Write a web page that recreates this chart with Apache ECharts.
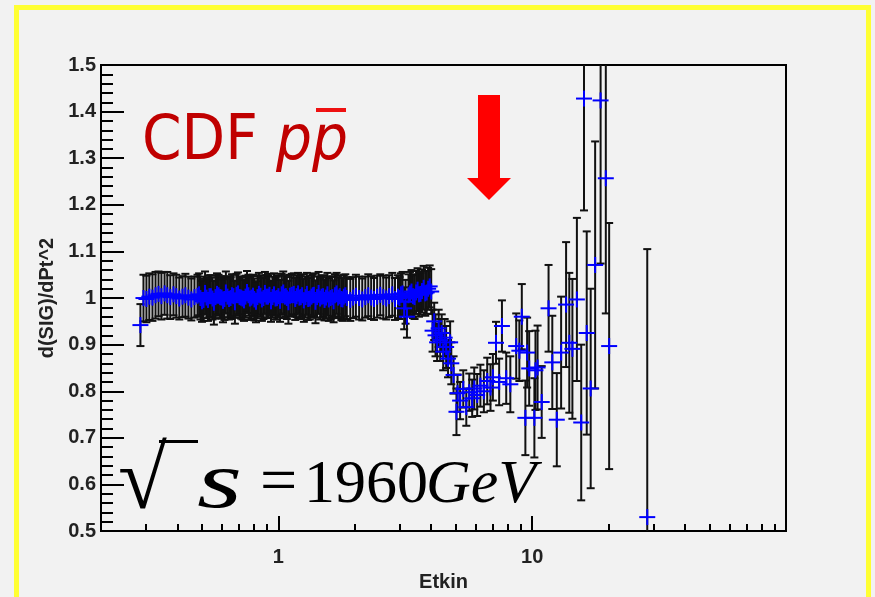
<!DOCTYPE html>
<html>
<head>
<meta charset="utf-8">
<script src="https://cdn.jsdelivr.net/npm/echarts@6/dist/echarts.min.js"></script>
<style>
html, body { margin: 0; padding: 0; background: #f2f2f2; }
#chart { width: 875px; height: 597px; }
</style>
</head>
<body>
<div id="chart"></div>
<script>
// Etkin values (log axis)
var etkin = [
    0.286, 0.294, 0.302, 0.310, 0.319, 0.328, 0.337, 0.346, 0.356, 0.365,
    0.375, 0.386, 0.396, 0.407, 0.419, 0.430, 0.442, 0.454, 0.467, 0.480,
    0.493, 0.507, 0.521, 0.535, 0.550, 0.565, 0.581, 0.597, 0.613, 0.630,
    0.648, 0.665, 0.684, 0.703, 0.722, 0.742, 0.762, 0.783, 0.805, 0.827,
    0.850, 0.873, 0.897, 0.922, 0.948, 0.974, 1.00, 1.03, 1.06, 1.08,
    1.11, 1.15, 1.18, 1.21, 1.24, 1.28, 1.31, 1.35, 1.38, 1.42,
    1.46, 1.50, 1.54, 1.58, 1.63, 1.67, 1.72, 1.77, 1.81, 1.86,
    1.92, 1.97, 2.02, 2.08, 2.14, 2.20, 2.26, 2.32, 2.38, 2.45,
    2.52, 2.59, 2.66, 2.73, 2.81, 2.88, 2.96, 3.04, 3.13, 3.21,
    3.30, 3.39, 3.49, 3.58, 3.68, 3.79, 3.89, 4.00,
    4.05, 4.11, 4.16, 4.22, 4.28, 4.34, 4.40, 4.46, 4.52, 4.58,
    4.66, 4.75, 4.80, 4.90, 5.03, 5.08, 5.20, 5.35, 5.50, 5.65,
    5.80, 5.91, 6.07, 6.25, 6.45, 6.65, 6.85, 7.00, 7.20, 7.41,
    7.60, 7.90, 8.20, 8.65, 8.90, 9.10, 9.40, 9.55, 9.73, 10.2,
    10.3, 10.5, 10.9, 11.6, 12.0, 12.5, 13.0, 13.6, 14.0, 14.4,
    15.0, 15.6, 16.0, 16.4, 17.0, 17.7, 18.6, 19.5, 20.1, 28.4
];

// d(SIG)/dPt^2
var sig = [
    0.942, 1.000, 0.998, 1.003, 1.001, 1.006, 1.009, 1.004, 1.010, 1.006,
    1.002, 1.008, 1.004, 0.999, 1.003, 1.006, 1.001, 0.997, 1.002, 1.005,
    1.000, 0.996, 1.001, 1.004, 0.999, 1.002, 1.006, 1.001, 0.998, 1.003,
    1.000, 1.004, 1.007, 1.002, 0.999, 1.003, 1.006, 1.001, 0.997, 1.002,
    1.005, 1.000, 1.003, 1.007, 1.002, 0.999, 1.004, 1.008, 1.003, 1.000,
    1.005, 1.009, 1.004, 1.001, 1.006, 1.002, 0.998, 1.003, 1.007, 1.002,
    0.999, 1.004, 1.001, 0.997, 1.002, 1.006, 1.001, 0.998, 1.003, 1.000,
    0.996, 1.001, 1.005, 1.000, 0.997, 1.002, 1.006, 1.001, 0.998, 1.003,
    1.007, 1.002, 0.999, 1.004, 1.008, 0.998, 1.003, 1.008, 0.978, 0.960,
    1.010, 1.004, 1.012, 1.008, 1.015, 1.010, 1.020, 1.014,
    0.930, 0.950, 0.920, 0.905, 0.935, 0.910, 0.925, 0.885, 0.915, 0.895,
    0.870, 0.905, 0.860, 0.835, 0.756, 0.796, 0.780, 0.805, 0.766, 0.798,
    0.785, 0.806, 0.792, 0.812, 0.800, 0.822, 0.808, 0.830, 0.904, 0.820,
    0.940, 0.828, 0.815, 0.897, 0.887, 0.960, 0.743, 0.883, 0.849, 0.743,
    0.845, 0.851, 0.777, 0.978, 0.862, 0.739, 0.883, 0.986, 0.904, 0.891,
    0.997, 0.733, 1.428, 0.925, 0.806, 1.071, 1.424, 1.257, 0.897, 0.530
];

// symmetric errors
var sigErr = [
    0.045, 0.050, 0.050, 0.050, 0.050, 0.050, 0.048, 0.050, 0.046, 0.050,
    0.047, 0.045, 0.046, 0.045, 0.044, 0.046, 0.045, 0.045, 0.044, 0.045,
    0.046, 0.045, 0.044, 0.045, 0.045, 0.046, 0.044, 0.045, 0.045, 0.044,
    0.045, 0.046, 0.045, 0.044, 0.045, 0.045, 0.044, 0.046, 0.045, 0.045,
    0.044, 0.045, 0.046, 0.045, 0.044, 0.045, 0.045, 0.044, 0.046, 0.045,
    0.045, 0.044, 0.045, 0.046, 0.045, 0.044, 0.045, 0.045, 0.046, 0.044,
    0.045, 0.045, 0.044, 0.046, 0.045, 0.045, 0.044, 0.045, 0.046, 0.045,
    0.045, 0.044, 0.045, 0.046, 0.045, 0.044, 0.045, 0.046, 0.045, 0.045,
    0.044, 0.046, 0.045, 0.045, 0.046, 0.045, 0.046, 0.045, 0.045, 0.045,
    0.046, 0.047, 0.046, 0.048, 0.046, 0.048, 0.045, 0.048,
    0.045, 0.040, 0.045, 0.040, 0.040, 0.045, 0.040, 0.040, 0.040, 0.045,
    0.040, 0.045, 0.045, 0.040, 0.050, 0.040, 0.040, 0.040, 0.040, 0.040,
    0.040, 0.045, 0.045, 0.045, 0.045, 0.050, 0.050, 0.050, 0.045, 0.050,
    0.055, 0.055, 0.060, 0.070, 0.065, 0.070, 0.080, 0.075, 0.080, 0.085,
    0.085, 0.090, 0.077, 0.093, 0.100, 0.100, 0.120, 0.134, 0.150, 0.150,
    0.175, 0.167, 0.240, 0.218, 0.214, 0.265, 0.350, 0.290, 0.264, 0.575
];

// second, interleaved set of points in the dense plateau
var etkinFine = [
    0.487, 0.500, 0.514, 0.528, 0.542, 0.557, 0.573, 0.589, 0.605, 0.621,
    0.639, 0.656, 0.674, 0.693, 0.712, 0.732, 0.752, 0.772, 0.794, 0.816,
    0.838, 0.861, 0.885, 0.910, 0.935, 0.961, 0.987, 1.015, 1.045, 1.07,
    1.095, 1.13, 1.165, 1.195, 1.225, 1.26, 1.295, 1.33, 1.365, 1.40,
    1.44, 1.48, 1.52, 1.56, 1.605, 1.65, 1.695, 1.745, 1.79, 1.835,
    3.00, 3.085, 3.17, 3.255, 3.345, 3.44, 3.535, 3.63, 3.735, 3.84, 3.945
];
var sigFine = [
    1.008, 0.993, 1.011, 0.996, 1.004, 0.990, 1.009, 1.002, 0.994, 1.012,
    0.998, 1.006, 0.991, 1.010, 1.001, 0.995, 1.013, 0.999, 1.005, 0.992,
    1.009, 0.997, 1.011, 1.003, 0.993, 1.008, 1.000, 0.994, 1.012, 1.004,
    0.991, 1.007, 0.998, 1.010, 1.002, 0.995, 1.009, 0.999, 1.006, 0.992,
    1.011, 1.003, 0.996, 1.008, 1.000, 0.993, 1.010, 1.004, 0.997, 1.006,
    1.000, 1.010, 0.992, 1.006, 1.014, 1.002, 1.018, 1.009, 1.022, 1.012, 1.025
];
var sigErrFine = [
    0.045, 0.044, 0.046, 0.045, 0.045, 0.047, 0.044, 0.045, 0.046, 0.045,
    0.044, 0.045, 0.046, 0.045, 0.045, 0.044, 0.045, 0.046, 0.045, 0.044,
    0.045, 0.046, 0.045, 0.045, 0.044, 0.045, 0.046, 0.045, 0.045, 0.044,
    0.046, 0.045, 0.045, 0.044, 0.045, 0.046, 0.045, 0.045, 0.044, 0.046,
    0.045, 0.045, 0.044, 0.046, 0.045, 0.045, 0.044, 0.045, 0.046, 0.045,
    0.045, 0.046, 0.047, 0.045, 0.046, 0.047, 0.046, 0.045, 0.047, 0.046, 0.045
];

var yMin = 0.5, yMax = 1.5;

var points = etkin.map(function (x, i) {
    return [x, sig[i], sigErr[i]];
}).concat(etkinFine.map(function (x, i) {
    return [x, sigFine[i], sigErrFine[i]];
}));

var myChart = echarts.init(document.getElementById("chart"));

function renderErrorBar(params, api) {
    var x = api.value(0);
    var y = api.value(1);
    var e = api.value(2);
    var hi = y + e;
    var lo = y - e;
    var pTop = api.coord([x, Math.min(hi, yMax)]);
    var pBot = api.coord([x, Math.max(lo, yMin)]);
    var st = { stroke: "#111", lineWidth: 2 };
    var children = [
        { type: "line", shape: { x1: pTop[0], y1: pTop[1], x2: pBot[0], y2: pBot[1] }, style: st }
    ];
    if (hi <= yMax) {
        children.push({ type: "line", shape: { x1: pTop[0] - 4, y1: pTop[1], x2: pTop[0] + 4, y2: pTop[1] }, style: st });
    }
    if (lo >= yMin) {
        children.push({ type: "line", shape: { x1: pBot[0] - 4, y1: pBot[1], x2: pBot[0] + 4, y2: pBot[1] }, style: st });
    }
    return { type: "group", children: children };
}

function renderCross(params, api) {
    var c = api.coord([api.value(0), api.value(1)]);
    var st = { stroke: "#0000ff", lineWidth: 2 };
    return {
        type: "group",
        children: [
            { type: "line", shape: { x1: c[0] - 8, y1: c[1], x2: c[0] + 8, y2: c[1] }, style: st },
            { type: "line", shape: { x1: c[0], y1: c[1] - 8, x2: c[0], y2: c[1] + 8 }, style: st }
        ]
    };
}

myChart.setOption({
    backgroundColor: "#f2f2f2",
    animation: false,
    grid: {
        left: 101,
        top: 65,
        width: 685,
        height: 473,
        show: true,
        borderColor: "#000",
        borderWidth: 2,
        backgroundColor: "transparent"
    },
    xAxis: {
        type: "log",
        logBase: 10,
        min: 0.2,
        max: 100,
        name: "Etkin",
        nameLocation: "middle",
        nameGap: 30,
        nameTextStyle: { fontSize: 20, fontWeight: "bold", color: "#222", fontFamily: "Liberation Sans" },
        axisLine: { lineStyle: { color: "#000", width: 2 } },
        axisTick: { inside: true, length: 15, lineStyle: { color: "#000", width: 2 } },
        minorTick: { show: true, splitNumber: 9, length: 7, lineStyle: { color: "#000", width: 2 } },
        splitLine: { show: false },
        axisLabel: {
            showMinLabel: false,
            showMaxLabel: false,
            margin: 16,
            fontSize: 20,
            fontWeight: "bold",
            color: "#222",
            fontFamily: "Liberation Sans"
        }
    },
    yAxis: {
        type: "value",
        min: yMin,
        max: yMax,
        interval: 0.1,
        name: "d(SIG)/dPt^2",
        nameLocation: "middle",
        nameGap: 43,
        nameTextStyle: { fontSize: 20, fontWeight: "bold", color: "#222", fontFamily: "Liberation Sans" },
        axisLine: { show: true, lineStyle: { color: "#000", width: 2 } },
        axisTick: { inside: true, length: 23, lineStyle: { color: "#000", width: 2 } },
        minorTick: { show: true, splitNumber: 5, length: 12, lineStyle: { color: "#000", width: 2 } },
        splitLine: { show: false },
        axisLabel: {
            margin: 5,
            fontSize: 20,
            fontWeight: "bold",
            color: "#222",
            fontFamily: "Liberation Sans"
        }
    },
    series: [
        {
            type: "custom",
            name: "errors",
            renderItem: renderErrorBar,
            encode: { x: 0, y: 1 },
            data: points,
            z: 2
        },
        {
            type: "custom",
            name: "points",
            renderItem: renderCross,
            encode: { x: 0, y: 1 },
            data: points,
            z: 3
        }
    ],
    graphic: [
        // yellow frame round the slide
        {
            type: "rect",
            shape: { x: 16.5, y: 7.5, width: 852, height: 600 },
            style: { fill: "none", stroke: "#ffff33", lineWidth: 5 },
            z: 10
        },
        {
            type: "text",
            x: 142, y: 143,
            style: { text: "CDF", fontSize: 63, fill: "#c00000", fontFamily: "DejaVu Sans Condensed, DejaVu Sans", verticalAlign: "middle" },
            z: 10
        },
        {
            type: "text",
            x: 276, y: 143,
            style: { text: "pp", fontSize: 63, fontStyle: "italic", fill: "#c00000", fontFamily: "DejaVu Sans Condensed, DejaVu Sans", verticalAlign: "middle" },
            z: 10
        },
        {
            type: "rect",
            shape: { x: 316, y: 108, width: 30, height: 4 },
            style: { fill: "#ee1111" },
            z: 10
        },
        // red arrow
        {
            type: "polygon",
            shape: { points: [[478, 95], [500, 95], [500, 178], [511, 178], [489, 200], [467, 178], [478, 178]] },
            style: { fill: "#ff0000" },
            z: 10
        },
        // sqrt(s) = 1960 GeV
        {
            type: "text",
            x: 118, y: 485,
            style: { text: "\u221a", fontSize: 89, fill: "#000", fontFamily: "Liberation Serif", verticalAlign: "middle" },
            z: 10
        },
        {
            type: "line",
            shape: { x1: 159, y1: 441.5, x2: 198, y2: 441.5 },
            style: { stroke: "#000", lineWidth: 3 },
            z: 10
        },
        {
            type: "text",
            x: 197, y: 486,
            scaleX: 1.45,
            style: { text: "s", fontSize: 80, fontStyle: "italic", fill: "#000", fontFamily: "Liberation Serif", verticalAlign: "middle" },
            z: 10
        },
        {
            type: "text",
            x: 260, y: 485,
            style: { text: "=", fontSize: 66, fill: "#000", fontFamily: "Liberation Serif", verticalAlign: "middle" },
            z: 10
        },
        {
            type: "text",
            x: 304, y: 486,
            style: { text: "1960", fontSize: 62, fill: "#000", fontFamily: "Liberation Serif", verticalAlign: "middle" },
            z: 10
        },
        {
            type: "text",
            x: 426, y: 486,
            style: { text: "GeV", fontSize: 62, fontStyle: "italic", fill: "#000", fontFamily: "Liberation Serif", verticalAlign: "middle" },
            z: 10
        }
    ]
});
</script>
</body>
</html>
